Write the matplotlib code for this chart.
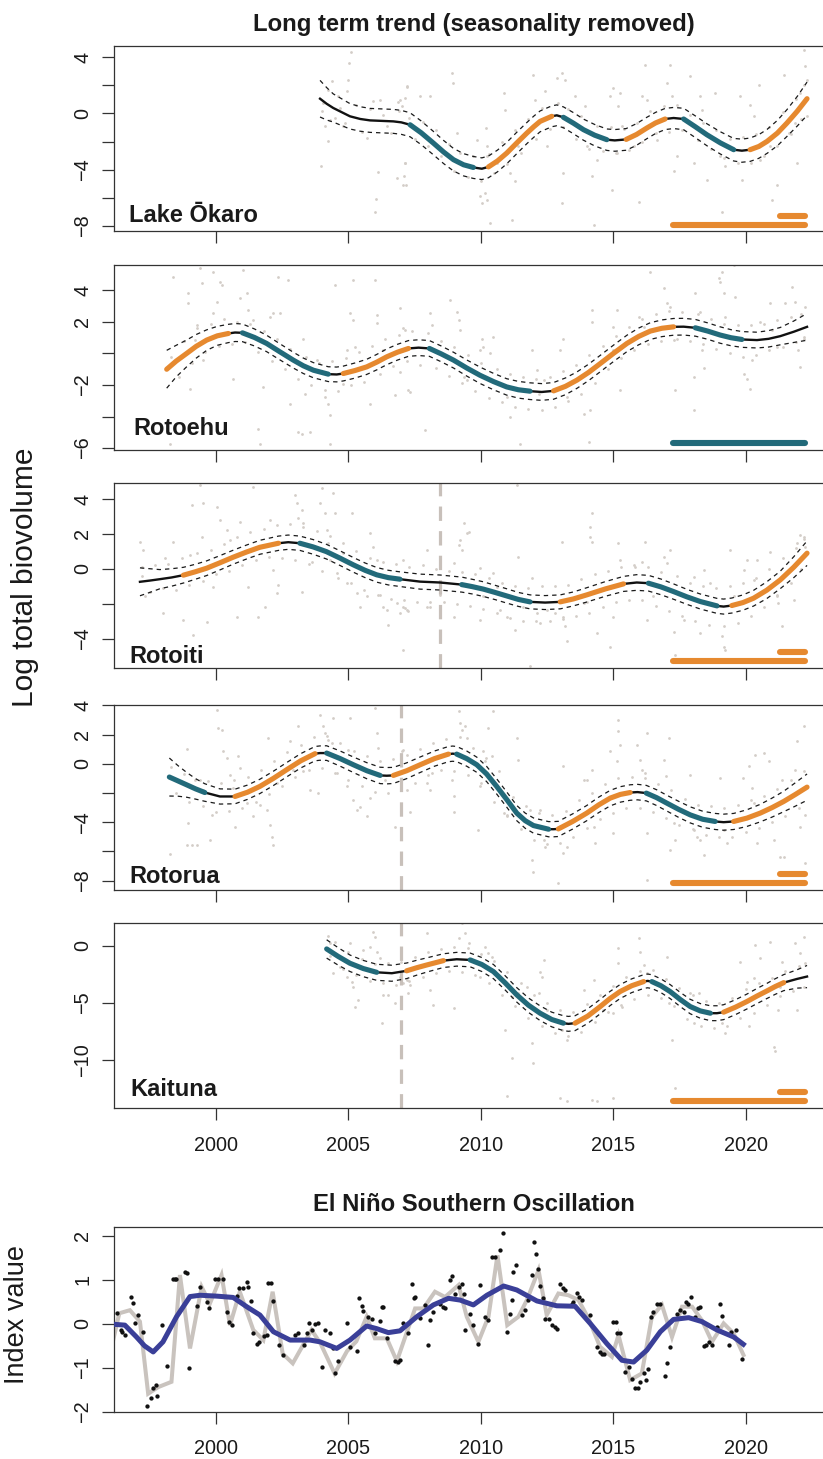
import numpy as np
import matplotlib.pyplot as plt

plt.rcParams['font.family'] = ['Liberation Sans', 'DejaVu Sans']

ORANGE = '#E6892F'
TEAL = '#226A7A'
PTGREY = '#D3CDC8'
VGREY = '#C8C0BA'
INK = '#1A1A1A'
COLS = {'o': ORANGE, 't': TEAL}

# ---------------- Lake Okaro ----------------
okaro_tx = [2003.93, 2004.18, 2004.43, 2005.06, 2005.45, 2005.82, 2006.70, 2007.00, 2007.33, 2007.75,
            2008.21, 2008.60, 2008.97, 2009.35, 2009.72, 2010.04, 2010.29, 2010.63, 2010.98, 2011.36,
            2011.74, 2012.00, 2012.24, 2012.68, 2012.87, 2013.12, 2013.50, 2013.88, 2014.30, 2014.76,
            2015.06, 2015.49, 2015.88, 2016.27, 2016.60, 2016.96, 2017.28, 2017.66, 2018.10, 2018.54,
            2019.05, 2019.55, 2019.86, 2020.17, 2020.50, 2020.81, 2021.20, 2021.56, 2021.95, 2022.32]
okaro_ty = [1.04, 0.68, 0.38, -0.21, -0.40, -0.50, -0.57, -0.64, -0.81, -1.38,
            -2.11, -2.75, -3.29, -3.65, -3.84, -3.93, -3.80, -3.38, -2.82, -2.10,
            -1.40, -0.95, -0.57, -0.21, -0.14, -0.28, -0.70, -1.16, -1.55, -1.87,
            -1.92, -1.85, -1.50, -1.04, -0.68, -0.40, -0.33, -0.40, -0.95, -1.52,
            -2.10, -2.58, -2.65, -2.58, -2.35, -1.99, -1.40, -0.69, 0.15, 1.04]
okaro_ci = [1.3, 1.15, 1.0, 0.9, 0.87, 0.85, 0.85, 0.85, 0.85, 0.84,
            0.83, 0.82, 0.8, 0.79, 0.78, 0.77, 0.77, 0.77, 0.76, 0.76,
            0.75, 0.75, 0.74, 0.74, 0.74, 0.74, 0.75, 0.75, 0.76, 0.76,
            0.77, 0.77, 0.77, 0.76, 0.75, 0.75, 0.75, 0.76, 0.77, 0.78,
            0.79, 0.8, 0.82, 0.83, 0.84, 0.85, 0.9, 0.95, 1.05, 1.18]
okaro_spans = [(2007.33, 2009.72, 't'), (2010.29, 2012.68, 'o'), (2013.12, 2014.76, 't'),
               (2015.49, 2016.96, 'o'), (2017.66, 2019.55, 't'), (2020.17, 2022.32, 'o')]
okaro_bars = [(2017.25, 2022.25, -7.91, 'o'), (2021.3, 2022.25, -7.27, 'o')]
okaro_px = [2005.09, 2005.04, 2005.0, 2004.94, 2004.37, 2004.24, 2004.06, 2004.12, 2004.24, 2003.95,
            2004.5, 2004.69, 2004.87, 2005.69, 2005.94, 2006.2, 2006.45, 2006.11, 2006.05, 2006.01,
            2006.89, 2007.01, 2007.14, 2007.23, 2007.14, 2006.85, 2007.18, 2007.1,
            2006.95, 2007.2, 2007.14, 2007.08, 2007.71, 2008.09, 2008.9, 2008.94, 2009.09, 2009.85,
            2009.97, 2010.04, 2010.16, 2010.25, 2010.35, 2010.2, 2010.23, 2010.25, 2010.6, 2010.86,
            2010.92, 2011.11, 2011.17, 2011.3, 2011.42, 2011.99, 2012.05, 2012.43, 2012.49, 2012.87,
            2013.06, 2013.19, 2013.12, 2013.06, 2013.56, 2013.94, 2014.01, 2014.19, 2014.26, 2014.38,
            2014.89, 2015.01, 2015.2, 2015.26, 2015.33, 2014.95, 2015.14, 2015.77, 2015.96, 2016.08,
            2016.2, 2016.27, 2016.65, 2017.03, 2017.15, 2017.21, 2017.28, 2017.41, 2017.91, 2018.04,
            2018.29, 2018.35, 2018.54, 2018.85, 2019.04, 2019.1, 2019.23, 2019.8, 2019.86, 2020.18,
            2020.3, 2020.49, 2020.55, 2020.93, 2021.18, 2021.0, 2021.44, 2021.62, 2021.87, 2021.94,
            2022.06, 2022.19, 2022.25, 2022.32, 2022.3, 2022.13,
            2004.0, 2004.3, 2004.6, 2004.8, 2005.3, 2005.5, 2005.8, 2006.3, 2006.6, 2006.9,
            2007.3, 2007.5, 2007.8, 2008.0, 2008.3, 2008.5, 2008.8, 2009.0, 2009.2, 2009.5,
            2009.7, 2010.0, 2010.3, 2010.5, 2010.8, 2011.0, 2011.3, 2011.5, 2011.8, 2012.1,
            2012.3, 2012.6, 2012.9, 2013.1, 2013.3, 2013.6, 2013.8, 2014.1, 2014.4, 2014.6,
            2014.9, 2015.1, 2015.4, 2015.6, 2015.9, 2016.1, 2016.4, 2016.6, 2016.9, 2017.1,
            2017.4, 2017.6, 2017.9, 2018.2, 2018.4, 2018.7, 2018.9, 2019.2, 2019.4, 2019.7,
            2019.9, 2020.2, 2020.4, 2020.7, 2020.9, 2021.2, 2021.4, 2021.7, 2021.9, 2022.1, 2022.2]
okaro_py = [4.34, 3.58, 2.35, 1.56, 2.27, 1.68, 0.73, -0.92, -1.99, -3.77,
            -0.33, 0.38, -0.69, -1.75, 0.85, 0.97, -0.92, -4.17, -6.07, -6.97,
            0.78, 0.5, 1.09, 1.87, -3.53, -4.6, -5.07, -4.48,
            0.97, 1.92, -3.53, -5.07, 1.21, 1.21, 2.87, 2.16, -1.4, -1.87,
            -5.9, -6.37, -5.66, -6.14, -7.75, -1.04, -2.35, -3.06, -3.53, 1.45,
            0.26, -4.24, -7.56, -4.83, -2.35, 2.75, 0.97, 1.56, -2.35, 2.51,
            2.87, 2.39, -4.24, -6.37, 1.21, 0.5, -2.35, -4.48, -7.91, -3.29,
            1.21, 1.8, 0.5, 1.45, -0.92, -5.43, -2.82, -2.35, -6.26, 1.21,
            3.46, 0.97, -1.87, 2.16, 3.46, 1.21, -4.12, -3.06, 2.63, -3.53,
            1.21, 0.26, -4.72, 1.45, -3.06, -6.97, -3.77, 1.21, -4.72, 0.62,
            -0.21, 2.04, -3.29, -2.35, -5.07, -6.14, 2.75, -1.4, -0.69, -3.53,
            1.45, 4.53, 3.34, 2.39, -0.21, 0.73,
            0.2, -0.5, 1.2, -0.9, 0.6, -1.3, 0.3, -0.1, -1.4, 0.2,
            -0.3, -1.8, -0.6, -2.3, -1.2, -3.0, -2.2, -4.1, -2.8, -4.5,
            -3.0, -4.8, -2.9, -4.2, -2.0, -3.6, -1.2, -2.8, -0.4, -1.8,
            0.4, -1.1, 0.7, -1.0, 0.3, -1.8, -0.2, -2.5, -0.9, -2.7,
            -1.0, -2.8, -1.1, -2.6, -0.7, -2.0, 0.2, -1.4, 0.5, -1.3,
            0.6, -1.2, -0.1, -1.9, -0.7, -2.5, -1.2, -3.2, -1.8, -3.5,
            -1.7, -3.5, -1.5, -3.0, -1.0, -2.3, 0.1, -1.5, 1.0, -0.4, 2.0]

# ---------------- Rotoehu ----------------
rotoehu_tx = [1998.14, 1998.50, 1998.89, 1999.25, 1999.65, 2000.05, 2000.47, 2000.72, 2001.00, 2001.45,
              2001.91, 2002.42, 2002.92, 2003.30, 2003.68, 2004.24, 2004.56, 2004.81, 2005.25, 2005.69,
              2006.07, 2006.45, 2006.85, 2007.27, 2007.65, 2008.06, 2008.50, 2008.97, 2009.47, 2009.97,
              2010.48, 2010.98, 2011.42, 2011.86, 2012.30, 2012.75, 2013.20, 2013.63, 2014.07, 2014.51,
              2015.02, 2015.52, 2015.96, 2016.40, 2016.84, 2017.28, 2017.66, 2018.10, 2018.57, 2019.04,
              2019.45, 2019.86, 2020.43, 2020.87, 2021.31, 2021.82, 2022.32]
rotoehu_ty = [-1.0, -0.48, 0.0, 0.45, 0.85, 1.12, 1.27, 1.33, 1.31, 1.02,
              0.64, 0.10, -0.42, -0.78, -1.06, -1.31, -1.33, -1.27, -1.08, -0.85,
              -0.55, -0.21, 0.08, 0.32, 0.37, 0.32, -0.02, -0.42, -0.92, -1.38,
              -1.78, -2.12, -2.30, -2.39, -2.44, -2.37, -2.08, -1.69, -1.20, -0.64,
              0.02, 0.64, 1.08, 1.42, 1.60, 1.69, 1.70, 1.63, 1.42, 1.17,
              1.00, 0.89, 0.85, 0.93, 1.10, 1.38, 1.69]
rotoehu_ci = [1.2, 1.0, 0.85, 0.75, 0.65, 0.6, 0.58, 0.57, 0.56, 0.54,
              0.52, 0.51, 0.5, 0.49, 0.48, 0.47, 0.47, 0.47, 0.48, 0.48,
              0.49, 0.5, 0.5, 0.5, 0.5, 0.5, 0.5, 0.5, 0.51, 0.52,
              0.52, 0.52, 0.53, 0.53, 0.53, 0.53, 0.53, 0.52, 0.52, 0.52,
              0.52, 0.52, 0.53, 0.53, 0.53, 0.53, 0.53, 0.53, 0.52, 0.52,
              0.51, 0.5, 0.5, 0.52, 0.55, 0.68, 0.85]
rotoehu_spans = [(1998.14, 2000.47, 'o'), (2001.0, 2004.24, 't'), (2004.81, 2007.27, 'o'),
                 (2008.06, 2011.86, 't'), (2012.75, 2017.28, 'o'), (2018.1, 2019.86, 't')]
rotoehu_bars = [(2017.25, 2022.25, -5.68, 't')]
rotoehu_px = [1998.39, 1998.95, 1998.95, 1999.4, 1999.46, 1999.9, 2000.15, 2000.21, 2000.03, 1999.9,
              1999.27, 1999.21, 1999.02, 1998.26, 1999.52, 2000.65, 2000.91, 2001.03, 2001.16, 2001.22,
              2001.41, 2001.79, 2001.66, 2001.6, 2002.04, 2002.17, 2002.42, 2002.35, 2002.73, 2002.8,
              2003.11, 2003.24, 2003.55, 2003.36, 2003.3, 2003.8, 2004.12, 2004.24, 2004.31, 2004.31,
              2004.5, 2004.81, 2005.06, 2005.19, 2004.94, 2005.25, 2005.19, 2005.82, 2006.01, 2006.07,
              2006.07, 2006.32, 2006.76, 2006.95, 2007.14, 2007.27, 2006.95,
              2007.08, 2007.33, 2008.09, 2008.15, 2007.9, 2008.84, 2009.09, 2009.16, 2009.22, 2009.35,
              2009.47, 2009.97, 2010.04, 2010.1, 2010.48, 2010.35, 2010.98, 2011.11, 2011.49, 2011.93,
              2012.12, 2012.18, 2012.37, 2013.12, 2013.0, 2013.25, 2013.88, 2014.13, 2014.07, 2014.19,
              2014.19, 2015.01, 2015.14, 2015.01, 2015.26, 2015.96, 2016.15, 2016.4, 2016.9, 2017.03,
              2017.15, 2017.28, 2017.34, 2018.04, 2018.1, 2018.04, 2018.29, 2018.35, 2018.41, 2018.98,
              2019.1, 2019.04, 2019.17, 2019.23, 2019.55, 2019.61, 2019.93, 2020.05, 2020.18, 2020.24,
              2020.55, 2020.93, 2021.0, 2021.18, 2021.49, 2021.75, 2021.87, 2021.99, 2022.06, 2022.19,
              2022.25,
              1998.3, 1998.6, 1998.8, 1999.1, 1999.3, 1999.6, 1999.8, 2000.1, 2000.3, 2000.6,
              2000.8, 2001.1, 2001.3, 2001.6, 2001.8, 2002.1, 2002.3, 2002.6, 2002.8, 2003.1,
              2003.4, 2003.6, 2003.9, 2004.1, 2004.4, 2004.6, 2004.9, 2005.1, 2005.4, 2005.6,
              2005.9, 2006.2, 2006.4, 2006.7, 2006.9, 2007.2, 2007.4, 2007.7, 2008.0, 2008.3,
              2008.5, 2008.8, 2009.0, 2009.3, 2009.5, 2009.8, 2010.0, 2010.3, 2010.6, 2010.8,
              2011.1, 2011.3, 2011.6, 2011.8, 2012.1, 2012.3, 2012.6, 2012.8, 2013.1, 2013.3,
              2013.6, 2013.8, 2014.1, 2014.3, 2014.6, 2014.8, 2015.1, 2015.3, 2015.6, 2015.8,
              2016.1, 2016.3, 2016.6, 2016.8, 2017.1, 2017.4, 2017.6, 2017.9, 2018.2, 2018.4,
              2018.7, 2018.9, 2019.2, 2019.4, 2019.7, 2019.9, 2020.2, 2020.4, 2020.7, 2020.9,
              2021.2, 2021.4, 2021.7, 2021.9, 2022.1, 2022.2]
rotoehu_py = [4.87, 3.81, 3.18, 5.4, 4.45, 5.19, 4.56, 4.34, 3.28, 2.54,
              1.8, 0.85, -2.22, -5.72, -0.42, -1.59, 3.5, 5.3, 3.81, 2.75,
              2.12, -2.12, -5.72, -4.77, 2.33, 2.54, 2.54, 4.87, 4.66, -3.18,
              -4.98, -5.08, -4.98, -2.54, 0.95, -0.42, -2.75, -3.18, -3.92, -5.72,
              4.34, -1.91, 2.54, 2.12, 0.21, 0.42, 4.66, -3.18, 4.66, 1.91,
              2.44, 0.21, -2.65, 2.86, 1.48, -2.33, -1.17,
              1.59, -2.44, 2.54, 1.8, -4.87, 3.39, 2.65, 2.12, 1.48, -1.48,
              -1.69, 0.21, 0.95, 0.42, 1.06, 0.0, -2.75, -4.03, -5.72, 0.21,
              -1.06, -2.54, -1.69, 0.95, 0.21, -2.75, -3.81, -3.6, -5.61, 2.75,
              2.01, 1.69, 2.75, 0.21, -2.33, 2.33, 1.69, 5.19, 4.13, 3.18,
              2.97, 0.85, -2.33, -1.48, 3.81, -3.6, 2.65, 0.21, -0.95, 4.77,
              5.19, 4.56, 3.81, 2.33, 5.61, 3.6, -1.27, -1.59, -2.22, -0.42,
              2.01, 3.18, 1.48, 0.42, 3.18, 4.24, 3.28, 0.21, -0.85, 1.06,
              2.97,
              -0.2, -1.5, 0.8, -0.6, 1.6, 0.1, 1.9, 0.5, 2.2, 0.6,
              2.0, 0.7, 1.9, 0.1, 1.4, -0.5, 0.9, -1.0, 0.3, -1.6,
              -0.2, -2.0, -0.6, -2.3, -0.5, -2.4, -0.3, -2.0, 0.1, -1.8,
              0.5, -1.3, 0.9, -0.8, 1.2, -0.5, 1.4, -0.7, 1.3, -0.9,
              0.8, -1.4, 0.4, -1.9, -0.1, -2.4, -0.6, -2.8, -1.0, -3.1,
              -1.3, -3.4, -1.5, -3.5, -1.6, -3.6, -1.5, -3.4, -1.1, -3.0,
              -0.7, -2.6, -0.1, -1.9, 0.5, -1.0, 1.1, -0.3, 1.7, 0.2,
              2.2, 0.6, 2.5, 0.8, 2.7, 0.9, 2.6, 0.8, 2.5, 0.6,
              2.2, 0.3, 1.9, 0.0, 1.8, -0.2, 1.8, -0.1, 1.9, 0.2,
              2.1, 0.4, 2.3, 0.7, 2.5, 0.9]

# ---------------- Rotoiti ----------------
rotoiti_tx = [1997.13, 1997.50, 1997.88, 1998.33, 1998.77, 1999.21, 1999.65, 2000.15, 2000.65, 2001.16,
              2001.66, 2002.36, 2002.73, 2003.17, 2003.67, 2004.17, 2004.68, 2005.19, 2005.63, 2006.07,
              2006.51, 2006.95, 2007.71, 2008.46, 2009.28, 2009.69, 2010.10, 2010.54, 2010.98, 2011.42,
              2011.86, 2012.43, 2013.00, 2013.50, 2014.00, 2014.70, 2015.39, 2015.89, 2016.33, 2016.80,
              2017.28, 2017.78, 2018.29, 2018.92, 2019.17, 2019.48, 2019.90, 2020.30, 2020.80, 2021.31,
              2021.82, 2022.32]
rotoiti_ty = [-0.74, -0.67, -0.59, -0.49, -0.36, -0.17, 0.04, 0.35, 0.67, 0.97,
              1.24, 1.47, 1.53, 1.47, 1.26, 0.99, 0.62, 0.23, -0.08, -0.34,
              -0.50, -0.59, -0.73, -0.78, -0.90, -1.02, -1.16, -1.35, -1.55, -1.75,
              -1.89, -1.93, -1.89, -1.72, -1.49, -1.15, -0.86, -0.78, -0.82, -1.03,
              -1.30, -1.60, -1.87, -2.12, -2.16, -2.10, -1.93, -1.68, -1.22, -0.63,
              0.10, 0.90]
rotoiti_ci = [0.8, 0.68, 0.55, 0.5, 0.45, 0.43, 0.42, 0.41, 0.4, 0.4,
              0.4, 0.41, 0.41, 0.41, 0.42, 0.42, 0.42, 0.42, 0.42, 0.42,
              0.42, 0.42, 0.43, 0.43, 0.43, 0.42, 0.42, 0.41, 0.41, 0.4,
              0.4, 0.4, 0.4, 0.4, 0.41, 0.42, 0.43, 0.45, 0.45, 0.45,
              0.44, 0.43, 0.43, 0.43, 0.43, 0.43, 0.44, 0.45, 0.48, 0.5,
              0.6, 0.7]
rotoiti_spans = [(1998.77, 2002.36, 'o'), (2003.17, 2006.95, 't'), (2009.28, 2011.86, 't'),
                 (2013.0, 2015.39, 'o'), (2016.33, 2018.92, 't'), (2019.48, 2022.32, 'o')]
rotoiti_bars = [(2017.25, 2022.25, -5.27, 'o'), (2021.3, 2022.25, -4.77, 'o')]
rotoiti_px = [1997.13, 1997.19, 1997.25, 1997.32, 1998.01, 1998.07, 1998.39, 1998.77, 1999.08, 1999.02,
              1999.14, 1999.4, 1999.46, 1999.52, 1999.65, 1999.9, 2000.03, 2000.15, 2000.4, 2000.53,
              2000.78, 2000.91, 2001.22, 2001.41, 2001.6, 2001.85, 2002.04, 2002.17, 2002.29, 2002.35,
              2002.98, 2003.05, 2003.11, 2003.24, 2003.3, 2003.24, 2003.61, 2003.93, 2003.99, 2004.12,
              2004.18, 2004.24, 2004.31, 2004.43, 2004.5, 2004.56, 2004.81, 2004.94, 2005.13, 2005.31,
              2005.44, 2005.69, 2005.82, 2005.94, 2006.07, 2006.2, 2006.32, 2006.45, 2006.51, 2006.83,
              2006.95, 2007.08, 2007.14, 2007.27,
              2007.08, 2007.2, 2007.08, 2007.96, 2007.96, 2008.09, 2008.46, 2008.97, 2009.16, 2009.22,
              2009.28, 2009.35, 2009.47, 2009.54, 2008.97, 2009.97, 2009.97, 2010.1, 2010.48, 2010.6,
              2010.73, 2010.98, 2011.3, 2011.36, 2011.42, 2011.61, 2011.86, 2011.93, 2012.12, 2012.24,
              2012.49, 2012.81, 2013.06, 2013.12, 2013.19, 2013.25, 2013.88, 2014.0, 2014.19, 2014.13,
              2014.13, 2014.19, 2014.38, 2014.89, 2015.01, 2015.2, 2015.26, 2015.83, 2016.08, 2016.2,
              2016.27, 2016.52, 2016.9, 2017.03, 2017.15, 2017.28, 2017.34, 2017.41, 2017.66, 2018.04,
              2018.29, 2018.41, 2018.67, 2019.1, 2019.17, 2019.23, 2019.42, 2019.55, 2019.93, 2020.05,
              2020.3, 2020.43, 2020.93, 2021.06, 2021.18, 2021.24, 2021.37, 2021.81, 2021.94, 2022.06,
              2022.19, 2022.25,
              1997.2, 1997.5, 1997.7, 1998.0, 1998.2, 1998.5, 1998.7, 1999.0, 1999.3, 1999.5,
              1999.8, 2000.0, 2000.3, 2000.5, 2000.8, 2001.0, 2001.3, 2001.5, 2001.8, 2002.0,
              2002.3, 2002.5, 2002.8, 2003.0, 2003.3, 2003.5, 2003.8, 2004.0, 2004.3, 2004.6,
              2004.8, 2005.1, 2005.3, 2005.6, 2005.8, 2006.1, 2006.3, 2006.6, 2006.8, 2007.1,
              2007.3, 2007.6, 2007.8, 2008.1, 2008.3, 2008.6, 2008.8, 2009.1, 2009.3, 2009.6,
              2009.8, 2010.1, 2010.3, 2010.6, 2010.8, 2011.1, 2011.3, 2011.6, 2011.8, 2012.1,
              2012.3, 2012.6, 2012.8, 2013.1, 2013.3, 2013.6, 2013.8, 2014.1, 2014.3, 2014.6,
              2014.8, 2015.1, 2015.3, 2015.6, 2015.8, 2016.1, 2016.3, 2016.6, 2016.8, 2017.1,
              2017.4, 2017.6, 2017.9, 2018.1, 2018.4, 2018.6, 2018.9, 2019.2, 2019.4, 2019.7,
              2019.9, 2020.2, 2020.4, 2020.7, 2020.9, 2021.2, 2021.4, 2021.7, 2021.9, 2022.1, 2022.2]
rotoiti_py = [1.56, 0.13, 1.09, -1.58, -2.54, 0.61, 1.56, -2.92, 3.66, 0.8,
              -3.78, 4.81, 1.85, 3.76, -3.02, -1.01, 3.57, 2.81, 2.23, 1.66,
              -2.73, 2.71, -1.01, 4.71, -2.73, -2.16, 2.81, -0.06, -1.39, -0.92,
              4.24, 3.76, 2.9, 3.38, 2.61, -1.3, 0.42, 3.76, 4.62, 3.19,
              2.23, 1.47, 0.52, 4.33, 3.19, -0.25, 0.9, -0.82, 3.19, -1.39,
              -2.16, -1.58, 2.04, 1.28, 0.52, -1.49, -2.16, -2.35, -3.21, -1.97,
              -2.54, -4.64, -2.25, -2.44,
              -2.16, -2.35, 0.52, 1.09, -2.16, -2.16, -1.49, 0.32, 1.37, 1.66,
              1.09, 2.61, 2.04, 2.14, -2.73, 0.04, -2.92, -1.58, -0.25, -1.01,
              -2.35, -2.73, -3.49, 4.81, 0.71, -2.16, -5.59, -0.53, -2.54, -3.11,
              -2.35, -2.54, 1.56, -2.73, -3.3, -4.16, -1.97, -1.87, 3.19, 2.42,
              1.85, 1.56, -3.68, -4.45, -2.73, 1.47, 0.52, 0.13, 0.42, 1.56,
              -2.92, -1.58, 0.71, 0.32, 1.09, -3.59, -4.92, -5.78, -2.92, -0.44,
              -3.68, -0.06, -0.82, -3.87, -4.45, -4.64, 1.09, -1.58, -0.06, 0.52,
              -0.63, 0.52, 0.99, -0.82, -1.58, -1.97, -3.3, -1.77, 1.47, 1.95,
              1.85, 1.28,
              -0.4, -1.3, 0.2, -1.1, 0.3, -1.2, 0.6, -0.9, 0.9, -0.7,
              1.1, -0.3, 1.4, -0.1, 1.8, 0.2, 2.1, 0.5, 2.3, 0.7,
              2.5, 0.6, 2.6, 0.5, 2.4, 0.3, 2.2, -0.1, 1.9, -0.5,
              1.5, -0.8, 1.0, -1.2, 0.6, -1.5, 0.4, -1.7, 0.3, -1.8,
              0.1, -1.9, 0.2, -1.9, 0.0, -1.9, -0.1, -2.0, -0.2, -2.1,
              -0.3, -2.3, -0.5, -2.5, -0.8, -2.8, -1.0, -3.0, -1.1, -3.0,
              -1.0, -3.0, -1.0, -2.9, -0.9, -2.7, -0.6, -2.5, -0.3, -2.2,
              -0.1, -1.9, 0.1, -1.8, 0.2, -1.8, 0.1, -2.1, -0.2, -2.4,
              -0.4, -2.7, -0.8, -3.0, -1.0, -3.2, -1.1, -3.3, -1.0, -3.1,
              -0.8, -2.7, -0.5, -2.2, 0.0, -1.5, 0.6, -0.8, 1.2, 0.0, 1.7]

# ---------------- Rotorua ----------------
rotorua_tx = [1998.24, 1998.56, 1998.89, 1999.23, 1999.58, 2000.15, 2000.72, 2001.19, 2001.66, 2002.17,
              2002.67, 2003.20, 2003.74, 2003.93, 2004.18, 2004.68, 2005.19, 2005.70, 2006.20, 2006.45,
              2006.70, 2007.20, 2007.71, 2008.25, 2008.78, 2008.94, 2009.09, 2009.47, 2009.85, 2010.22,
              2010.60, 2010.98, 2011.36, 2011.68, 2011.99, 2012.56, 2012.75, 2012.93, 2013.47, 2014.00,
              2014.45, 2014.89, 2015.27, 2015.64, 2015.92, 2016.25, 2016.64, 2017.03, 2017.47, 2017.91,
              2018.38, 2018.85, 2019.17, 2019.55, 2020.05, 2020.55, 2021.00, 2021.44, 2021.88, 2022.32]
rotorua_ty = [-0.91, -1.17, -1.44, -1.72, -1.97, -2.24, -2.24, -1.95, -1.55, -1.00,
              -0.41, 0.20, 0.69, 0.73, 0.73, 0.36, -0.07, -0.48, -0.80, -0.82,
              -0.80, -0.48, -0.07, 0.35, 0.66, 0.69, 0.66, 0.35, -0.07, -0.70,
              -1.55, -2.45, -3.38, -3.90, -4.23, -4.48, -4.48, -4.46, -3.95, -3.38,
              -2.82, -2.35, -2.10, -1.97, -1.94, -2.01, -2.32, -2.70, -3.12, -3.50,
              -3.80, -3.95, -4.00, -3.95, -3.72, -3.38, -3.00, -2.58, -2.10, -1.60]
rotorua_ci = [1.3, 1.05, 0.85, 0.7, 0.6, 0.52, 0.5, 0.49, 0.49, 0.49,
              0.49, 0.49, 0.49, 0.49, 0.5, 0.52, 0.53, 0.55, 0.56, 0.56,
              0.55, 0.54, 0.53, 0.52, 0.52, 0.52, 0.52, 0.52, 0.52, 0.52,
              0.52, 0.52, 0.52, 0.52, 0.52, 0.52, 0.52, 0.52, 0.52, 0.52,
              0.53, 0.53, 0.53, 0.53, 0.53, 0.53, 0.54, 0.54, 0.55, 0.55,
              0.55, 0.55, 0.55, 0.55, 0.57, 0.6, 0.65, 0.7, 0.8, 0.9]
rotorua_spans = [(1998.24, 1999.58, 't'), (2000.72, 2003.74, 'o'), (2004.18, 2006.2, 't'),
                 (2006.7, 2008.78, 'o'), (2009.09, 2012.56, 't'), (2012.93, 2015.64, 'o'),
                 (2016.25, 2018.85, 't'), (2019.55, 2022.32, 'o')]
rotorua_bars = [(2017.25, 2022.25, -8.18, 'o'), (2021.3, 2022.25, -7.57, 'o')]
rotorua_px = [1998.26, 1998.89, 1998.95, 1998.89, 1999.08, 1999.27, 1999.4, 1999.52, 1999.77, 1999.84,
              2000.03, 2000.09, 2000.21, 2000.28, 2000.4, 2000.53, 2000.65, 2000.72, 2000.85, 2000.91,
              2001.16, 2001.41, 2001.66, 2001.91, 2001.98, 2002.04, 2002.1, 2002.17, 2002.29, 2002.8,
              2002.92, 2003.11, 2003.3, 2003.55, 2003.87, 2003.93, 2004.06, 2004.12, 2004.24, 2004.37,
              2004.43, 2004.56, 2004.94, 2005.0, 2005.06, 2005.19, 2005.31, 2005.44, 2005.69, 2005.82,
              2006.01, 2006.07, 2006.13, 2006.39, 2006.76, 2007.01,
              2007.08, 2007.2, 2007.33, 2007.96, 2008.09, 2008.15, 2008.9, 2008.97, 2008.97, 2009.16,
              2009.22, 2009.28, 2009.41, 2009.47, 2009.91, 2009.97, 2010.1, 2010.16, 2010.29, 2010.42,
              2010.48, 2010.73, 2010.86, 2010.98, 2011.36, 2011.42, 2011.86, 2011.93, 2011.99, 2012.24,
              2012.37, 2012.43, 2012.93, 2013.1, 2013.12, 2013.25, 2013.88, 2014.0, 2014.19, 2014.26,
              2014.32, 2014.89, 2015.01, 2015.14, 2015.2, 2015.2, 2015.26, 2015.89, 2016.02, 2016.08,
              2016.2, 2016.27, 2016.27, 2016.27, 2016.9, 2016.98, 2017.09, 2017.15, 2017.28, 2017.34,
              2017.91, 2018.04, 2018.16, 2018.29, 2018.41, 2019.04, 2019.17, 2019.29, 2019.92, 2020.11,
              2020.24, 2020.3, 2020.37, 2020.43, 2020.68, 2020.87, 2021.06, 2021.31, 2021.44, 2021.37,
              2021.87, 2021.94, 2022.06, 2022.19, 2022.25, 2022.25,
              1998.3, 1998.5, 1998.8, 1999.0, 1999.2, 1999.5, 1999.7, 2000.0, 2000.2, 2000.5,
              2000.7, 2001.0, 2001.2, 2001.5, 2001.7, 2002.0, 2002.2, 2002.5, 2002.7, 2003.0,
              2003.2, 2003.5, 2003.7, 2004.0, 2004.2, 2004.5, 2004.7, 2005.0, 2005.2, 2005.5,
              2005.7, 2006.0, 2006.2, 2006.5, 2006.7, 2007.0, 2007.2, 2007.5, 2007.7, 2008.0,
              2008.2, 2008.5, 2008.7, 2009.0, 2009.2, 2009.5, 2009.7, 2010.0, 2010.2, 2010.5,
              2010.7, 2011.0, 2011.2, 2011.5, 2011.7, 2012.0, 2012.2, 2012.5, 2012.7, 2013.0,
              2013.2, 2013.5, 2013.7, 2014.0, 2014.2, 2014.5, 2014.7, 2015.0, 2015.2, 2015.5,
              2015.7, 2016.0, 2016.2, 2016.5, 2016.7, 2017.0, 2017.2, 2017.5, 2017.7, 2018.0,
              2018.2, 2018.5, 2018.7, 2019.0, 2019.2, 2019.5, 2019.7, 2020.0, 2020.2, 2020.5,
              2020.7, 2021.0, 2021.2, 2021.5, 2021.7, 2022.0, 2022.2]
rotorua_py = [-6.17, 1.0, -4.07, -5.55, -5.55, -5.55, -1.1, -1.78, -5.21, -3.5,
              3.7, 2.45, 2.33, 0.85, 0.39, -0.75, -1.67, -4.3, 0.5, -0.3,
              -2.7, -3.61, -2.81, -3.15, 1.76, -4.18, -4.98, -5.55, -1.33, 1.53,
              -0.41, 2.56, -0.53, -1.78, -2.01, 3.36, 2.56, 2.1, 1.65, 1.42,
              3.13, -0.64, -1.55, 0.96, 3.13, -2.47, -3.15, -2.93, -3.61, -2.35,
              3.82, 2.1, 1.07, -1.1, -4.3, 0.85,
              0.96, -1.78, -3.27, -1.33, -1.78, -0.64, -1.1, -2.24, -3.27, 3.59,
              2.79, 2.33, 2.56, 1.76, -4.53, -1.55, 0.85, 0.16, 2.45, 0.5,
              3.59, -1.78, -3.38, -3.61, 1.76, 0.27, -3.15, -6.58, -7.38, -3.15,
              -5.21, -5.67, -8.18, -0.18, -6.13, -5.67, -1.1, -1.1, -0.41, -4.3,
              -5.44, 0.85, -4.75, 0.16, 3.02, 2.22, 1.3, 1.3, 0.27, -0.41,
              -0.64, 2.1, -4.75, -7.95, 0.27, -0.87, 1.76, -5.9, -4.07, -5.21,
              -0.75, -4.53, -4.98, -5.21, -6.24, -0.98, -4.53, -5.44, -0.98, -0.18,
              -1.67, -2.7, 0.62, -5.44, 0.73, 0.16, -5.21, -6.35, -6.35, -1.1,
              -0.41, 1.53, -4.3, 2.56, -3.5, -6.81,
              -0.2, -2.0, -0.7, -2.6, -1.1, -2.9, -1.2, -3.3, -1.3, -3.2,
              -1.1, -3.0, -0.9, -2.6, -0.4, -2.1, 0.2, -1.5, 0.8, -0.9,
              1.3, -0.4, 1.8, -0.3, 1.9, -0.6, 1.4, -1.1, 0.9, -1.5,
              0.5, -1.9, 0.2, -2.0, 0.3, -1.7, 0.6, -1.3, 1.0, -0.8,
              1.4, -0.4, 1.7, -0.5, 1.8, -0.8, 1.1, -1.3, 0.4, -2.6,
              -0.5, -3.5, -2.3, -4.5, -2.9, -5.2, -3.4, -5.5, -3.5, -5.4,
              -3.2, -5.0, -2.5, -4.4, -2.0, -3.8, -1.4, -3.4, -1.0, -3.0,
              -0.9, -3.0, -1.0, -3.3, -1.4, -3.7, -1.8, -4.2, -2.4, -4.5,
              -2.8, -4.9, -2.9, -5.0, -3.0, -5.0, -2.8, -4.7, -2.5, -4.4,
              -2.2, -4.0, -1.7, -3.6, -1.1, -3.0, -0.5]

# ---------------- Kaituna ----------------
kaituna_tx = [2004.18, 2004.62, 2005.06, 2005.56, 2006.07, 2006.64, 2007.20, 2007.58, 2007.96, 2008.59,
              2009.09, 2009.60, 2010.04, 2010.48, 2010.92, 2011.36, 2011.80, 2012.24, 2012.68, 2013.12,
              2013.31, 2013.56, 2014.04, 2014.51, 2014.88, 2015.26, 2015.70, 2016.15, 2016.30, 2016.46,
              2016.80, 2017.15, 2017.53, 2017.91, 2018.29, 2018.67, 2018.92, 2019.17, 2019.61, 2020.05,
              2020.43, 2020.81, 2021.12, 2021.44, 2021.94, 2022.32]
kaituna_ty = [-0.29, -0.95, -1.54, -2.00, -2.33, -2.41, -2.20, -1.93, -1.69, -1.31,
              -1.19, -1.25, -1.65, -2.27, -3.25, -4.30, -5.20, -5.90, -6.45, -6.77,
              -6.83, -6.77, -6.15, -5.32, -4.62, -4.01, -3.50, -3.14, -3.08, -3.14,
              -3.50, -4.01, -4.70, -5.32, -5.70, -5.90, -5.90, -5.81, -5.38, -4.88,
              -4.40, -3.95, -3.57, -3.23, -2.91, -2.70]
kaituna_ci = [0.8, 0.76, 0.72, 0.71, 0.7, 0.7, 0.68, 0.65, 0.62, 0.6,
              0.6, 0.6, 0.61, 0.62, 0.62, 0.63, 0.63, 0.64, 0.64, 0.65,
              0.65, 0.65, 0.64, 0.63, 0.62, 0.61, 0.6, 0.6, 0.6, 0.6,
              0.6, 0.61, 0.62, 0.63, 0.64, 0.65, 0.65, 0.65, 0.65, 0.65,
              0.66, 0.66, 0.68, 0.7, 0.8, 0.97]
kaituna_spans = [(2004.18, 2006.07, 't'), (2007.2, 2008.59, 'o'), (2009.6, 2013.12, 't'),
                 (2013.56, 2016.15, 'o'), (2016.46, 2018.67, 't'), (2019.17, 2021.44, 'o')]
kaituna_bars = [(2017.25, 2022.25, -13.55, 'o'), (2021.3, 2022.25, -12.79, 'o')]
kaituna_px = [2004.24, 2004.31, 2004.43, 2004.69, 2004.94, 2005.06, 2005.13, 2005.19, 2005.25, 2005.38,
              2005.57, 2005.82, 2005.92, 2006.01, 2006.07, 2006.2, 2006.26, 2006.32, 2006.51, 2006.76,
              2006.95, 2007.08, 2007.27,
              2007.2, 2007.33, 2007.96, 2008.09, 2008.21, 2008.97, 2009.16, 2009.28, 2009.41, 2009.54,
              2009.97, 2010.16, 2010.29, 2010.42, 2010.98, 2010.92, 2011.17, 2011.17, 2011.42, 2011.74,
              2011.93, 2011.99, 2012.18, 2012.24, 2012.3, 2012.37, 2012.49, 2013.06, 2013.25, 2013.0,
              2013.25, 2013.88, 2014.19, 2014.26, 2014.38, 2014.63, 2015.01, 2015.01, 2015.2, 2015.2,
              2015.33, 2015.96, 2016.02, 2016.15, 2016.27, 2017.03, 2017.09, 2017.22, 2017.34, 2017.91,
              2018.04, 2018.23, 2019.1, 2019.23, 2019.8, 2020.05, 2020.11, 2020.3, 2020.37, 2020.55,
              2020.93, 2021.06, 2021.12, 2021.24, 2021.31, 2021.37, 2021.87, 2021.94, 2022.06, 2022.19,
              2022.25,
              2004.3, 2004.5, 2004.8, 2005.0, 2005.3, 2005.5, 2005.8, 2006.0, 2006.3, 2006.5,
              2006.8, 2007.0, 2007.3, 2007.5, 2007.8, 2008.0, 2008.3, 2008.5, 2008.8, 2009.0,
              2009.3, 2009.5, 2009.8, 2010.0, 2010.3, 2010.5, 2010.8, 2011.0, 2011.3, 2011.5,
              2011.8, 2012.0, 2012.3, 2012.5, 2012.8, 2013.0, 2013.3, 2013.5, 2013.8, 2014.0,
              2014.3, 2014.5, 2014.8, 2015.0, 2015.3, 2015.5, 2015.8, 2016.0, 2016.3, 2016.5,
              2016.8, 2017.0, 2017.3, 2017.5, 2017.8, 2018.0, 2018.3, 2018.5, 2018.8, 2019.0,
              2019.3, 2019.5, 2019.8, 2020.0, 2020.3, 2020.5, 2020.8, 2021.0, 2021.3, 2021.5,
              2021.8, 2022.0, 2022.2]
kaituna_py = [0.84, 0.2, -2.41, -1.83, -2.7, 0.2, -3.14, -3.58, -5.32, -4.74,
              -0.38, -0.09, 1.22, 0.78, -0.52, -1.1, -6.77, -4.3, -4.3, -5.03,
              -2.7, -3.28, -4.16,
              -2.99, -3.43, 1.08, -3.87, -5.17, -5.47, 0.64, 1.95, 1.08, 0.2,
              -2.7, -0.09, -0.67, -0.96, -13.17, -7.35, -9.83, -4.45, -4.16, -3.58,
              -8.52, -10.26, -4.16, -2.27, -2.7, -1.25, -5.61, -7.35, -8.23, -13.31,
              -13.6, -3.87, -13.46, -2.99, -13.6, -5.61, -13.31, -5.9, -0.23, -1.54,
              -5.32, 0.64, -0.52, -1.69, -2.41, -0.96, -5.03, -8.23, -12.44, -4.16,
              -6.77, -4.16, -6.77, -7.65, -1.4, -3.14, -7.06, -2.85, 0.06, -1.1,
              0.35, -8.81, -9.24, -5.61, -3.58, -1.4, 0.2, -5.61, -0.67, 0.78,
              -1.54,
              -0.9, 0.3, -2.0, -0.6, -2.6, -1.2, -3.1, -1.6, -3.3, -1.5,
              -3.4, -1.4, -3.1, -1.0, -2.7, -0.6, -2.4, -0.3, -2.2, -0.1,
              -2.3, -0.2, -2.6, -0.7, -3.3, -1.3, -4.3, -2.3, -5.3, -3.3,
              -6.3, -4.3, -7.0, -5.0, -7.6, -5.6, -7.9, -5.8, -7.5, -5.1,
              -6.7, -4.3, -5.8, -3.5, -5.2, -2.7, -4.7, -2.2, -4.3, -2.1,
              -4.6, -2.9, -5.3, -3.7, -6.4, -4.3, -7.0, -4.8, -7.2, -5.0,
              -7.0, -4.6, -6.3, -3.8, -5.9, -3.3, -5.2, -2.8, -4.4, -2.2,
              -4.0, -1.8, -3.6]

# ---------------- ENSO ----------------
enso_px = [1996.27, 1996.40, 1996.47, 1996.56, 1996.81, 1996.88, 1996.94, 1997.07, 1997.23, 1997.38,
           1997.53, 1997.63, 1997.73, 1997.78, 1997.98, 1998.14, 1998.39, 1998.45, 1998.51, 1998.83,
           1998.89, 1998.98, 1999.27, 1999.40, 1999.65, 1999.75, 1999.96, 2000.09, 2000.28, 2000.40,
           2000.50, 2000.59, 2000.78, 2000.88, 2001.03, 2001.16, 2001.22, 2001.31, 2001.41, 2001.54,
           2001.64, 2001.81, 2001.91, 2001.98, 2002.07, 2002.17, 2002.39, 2002.54, 2002.98, 2003.09,
           2003.32, 2003.45, 2003.53, 2003.61, 2003.74, 2003.87, 2003.99, 2004.12, 2004.31, 2004.43,
           2004.50, 2004.62, 2004.94, 2005.06, 2005.31, 2005.42, 2005.50, 2005.57, 2005.76, 2005.88,
           2006.01, 2006.20, 2006.26, 2006.32, 2006.47, 2006.76, 2006.89, 2006.95, 2007.08, 2007.27,
           2007.39, 2007.48, 2007.52, 2007.71, 2007.90, 2008.02, 2008.09, 2008.21, 2008.46, 2008.56,
           2008.65, 2008.84, 2008.90, 2009.03, 2009.16, 2009.28, 2009.35, 2009.41, 2009.60, 2009.72,
           2009.91, 2009.97, 2010.16, 2010.29, 2010.42, 2010.54, 2010.73, 2010.83, 2010.98, 2011.11,
           2011.17, 2011.23, 2011.34, 2011.55, 2011.68, 2011.80, 2011.93, 2012.02, 2012.09, 2012.15,
           2012.24, 2012.34, 2012.43, 2012.56, 2012.68, 2012.81, 2012.87, 2013.00, 2013.10, 2013.19,
           2013.44, 2013.50, 2013.63, 2013.69, 2013.82, 2014.11, 2014.38, 2014.51, 2014.57, 2014.66,
           2015.01, 2015.11, 2015.16, 2015.26, 2015.45, 2015.58, 2015.70, 2015.83, 2015.92, 2016.02,
           2016.15, 2016.25, 2016.33, 2016.42, 2016.52, 2016.65, 2016.78, 2016.96, 2017.03, 2017.15,
           2017.41, 2017.53, 2017.68, 2017.76, 2017.84, 2017.93, 2018.10, 2018.22, 2018.29, 2018.44,
           2018.51, 2018.60, 2018.73, 2018.92, 2019.02, 2019.11, 2019.36, 2019.43, 2019.62, 2019.87]
enso_py = [0.24, -0.14, -0.18, -0.26, 0.60, 0.48, 0.01, 0.20, -0.18, -1.87,
           -1.68, -1.47, -1.40, -1.65, -0.02, -0.96, 1.03, 1.02, 1.03, 1.17,
           1.15, -1.00, 0.41, 0.83, 0.49, 0.36, 1.02, 1.03, 1.01, 0.26,
           0.05, -0.03, 0.63, 0.82, 0.82, 0.96, 0.84, 0.53, -0.22, -0.47,
           -0.41, -0.28, -0.26, 0.92, 0.93, 0.52, -0.49, -0.71, -0.26, -0.22,
           -0.49, -0.22, 0.02, -0.14, -0.01, 0.01, -0.98, -0.14, -0.21, -0.54,
           -1.13, -0.85, 0.01, -0.52, -0.62, 0.59, 0.41, 0.30, 0.16, 0.12,
           -0.21, 0.07, 0.39, 0.39, -0.32, -0.85, -0.87, -0.83, 0.01, -0.22,
           0.90, 0.59, 0.62, 0.14, 0.43, -0.49, 0.08, 0.27, 0.45, 0.39,
           0.35, 0.99, 1.09, 0.68, 0.84, 0.90, 0.67, -0.14, 0.22, -0.03,
           -0.45, 0.88, 0.16, 0.08, 1.51, 1.53, 1.68, 2.06, -0.18, 0.22,
           0.54, 1.17, 1.34, 0.20, 0.31, 0.54, 1.11, 1.87, 1.58, 1.25,
           0.86, 0.58, 0.12, 0.12, -0.03, -0.07, -0.11, 0.90, 0.82, 0.78,
           0.45, 0.50, 0.71, 0.62, 0.54, 0.19, -0.52, -0.64, -0.68, -0.68,
           0.03, 0.03, -0.20, -0.20, -1.09, -0.99, -1.25, -1.47, -1.45, -1.32,
           -1.13, -1.27, -1.03, 0.16, 0.27, 0.45, 0.45, -1.19, -0.90, -0.52,
           0.22, 0.31, 0.27, 0.50, 0.45, 0.60, 0.16, 0.35, 0.39, -0.51,
           -0.49, -0.41, -0.49, -0.07, 0.45, 0.18, -0.49, -0.18, -0.13, -0.79]
enso_line_x = [1996.12, 1996.35, 1996.75, 1997.13, 1997.44, 1997.82, 1998.32, 1998.64, 1999.02, 1999.46,
               1999.77, 2000.21, 2000.53, 2000.9, 2001.41, 2001.79, 2002.14, 2002.52, 2002.9, 2003.61,
               2003.95, 2004.48, 2004.95, 2005.3, 2005.69, 2006.0, 2006.45, 2006.83, 2007.52, 2007.83,
               2008.27, 2008.65, 2009.16, 2009.47, 2009.91, 2010.29, 2010.63, 2011.0, 2011.42, 2011.74,
               2012.18, 2012.49, 2012.93, 2013.31, 2013.69, 2014.07, 2014.5, 2014.95, 2015.2, 2015.64,
               2016.08, 2016.46, 2016.84, 2017.22, 2017.6, 2017.98, 2018.35, 2018.73, 2019.17, 2019.55,
               2019.92]
enso_line_y = [-0.37, 0.24, 0.31, 0.05, -1.59, -1.44, -1.32, 1.11, -0.56, 0.84,
               0.46, 1.11, -0.03, 0.73, -0.14, -0.37, 0.73, -0.68, -0.9, -0.14,
               -0.45, -1.13, -0.62, -0.4, 0.16, -0.33, -0.33, -0.85, 0.35, 0.35,
               0.73, 0.61, 0.88, 0.16, -0.41, 0.16, 1.56, -0.03, 0.16, 0.54,
               1.22, 0.2, 0.69, 0.65, 0.54, 0.12, -0.52, -0.75, -0.26, -1.28,
               -1.13, 0.16, 0.43, -0.3, 0.39, 0.39, 0.08, -0.41, 0.01, -0.22,
               -0.71]
enso_smooth_x = [1996.12, 1996.56, 1997.0, 1997.3, 1997.63, 1998.0, 1998.51, 1999.02, 1999.4, 2000.03,
                 2000.65, 2001.16, 2001.66, 2002.17, 2002.8, 2003.55, 2003.93, 2004.56, 2005.06, 2005.69,
                 2006.07, 2006.51, 2006.95, 2007.58, 2008.21, 2008.78, 2009.22, 2009.72, 2010.23, 2010.86,
                 2011.36, 2012.12, 2012.87, 2013.56, 2014.13, 2014.76, 2015.33, 2015.77, 2016.27, 2016.78,
                 2017.28, 2017.85, 2018.35, 2018.92, 2019.55, 2019.99]
enso_smooth_y = [-0.01, -0.03, -0.3, -0.5, -0.64, -0.41, 0.16, 0.62, 0.65, 0.63,
                 0.6, 0.39, 0.2, -0.18, -0.37, -0.37, -0.41, -0.56, -0.37, -0.05,
                 -0.11, -0.2, -0.16, 0.16, 0.43, 0.58, 0.54, 0.43, 0.65, 0.86,
                 0.77, 0.52, 0.41, 0.4, 0.01, -0.45, -0.83, -0.87, -0.6, -0.18,
                 0.1, 0.14, 0.05, -0.14, -0.3, -0.5]

lakes = [
    ('Lake Ōkaro', okaro_tx, okaro_ty, okaro_ci, okaro_spans, okaro_bars, okaro_px, okaro_py, None,
     (-8.35, 4.78), [-8, -6, -4, -2, 0, 2, 4], {4: '4', 0: '0', -4: '−4', -8: '−8'}, (0.021, 0.05), (46, 231)),
    ('Rotoehu', rotoehu_tx, rotoehu_ty, rotoehu_ci, rotoehu_spans, rotoehu_bars, rotoehu_px, rotoehu_py, None,
     (-6.1, 5.63), [-6, -4, -2, 0, 2, 4], {4: '4', 2: '2', -2: '−2', -6: '−6'}, (0.027, 0.079), (264.7, 449.7)),
    ('Rotoiti', rotoiti_tx, rotoiti_ty, rotoiti_ci, rotoiti_spans, rotoiti_bars, rotoiti_px, rotoiti_py, 2008.46,
     (-5.68, 4.94), [-4, -2, 0, 2, 4], {4: '4', 2: '2', 0: '0', -4: '−4'}, (0.022, 0.029), (482.7, 668)),
    ('Rotorua', rotorua_tx, rotorua_ty, rotorua_ci, rotorua_spans, rotorua_bars, rotorua_px, rotorua_py, 2007.0,
     (-8.64, 4.04), [-8, -6, -4, -2, 0, 2, 4], {4: '4', 2: '2', 0: '0', -4: '−4', -8: '−8'}, (0.021, 0.039), (704.7, 890)),
    ('Kaituna', kaituna_tx, kaituna_ty, kaituna_ci, kaituna_spans, kaituna_bars, kaituna_px, kaituna_py, 2007.0,
     (-14.2, 2.0), [-10, -5, 0], {0: '0', -5: '−5', -10: '−10'}, (0.023, 0.068), (922.7, 1108.3)),
]

W, H = 823, 1459
XLIM = (1996.15, 2023.3)
fig = plt.figure(figsize=(W / 100, H / 100), dpi=100)


def make_axes(top, bottom):
    ax = fig.add_axes([114 / W, 1 - bottom / H, 719 / W, (bottom - top) / H])
    for s in ax.spines.values():
        s.set_color('#333333')
        s.set_linewidth(0.9)
    ax.tick_params(direction='out', length=8.6, width=0.9, color='#333333',
                   labelsize=14.3, labelcolor=INK)
    ax.tick_params(axis='x', pad=11)
    ax.tick_params(axis='y', pad=7)
    ax.set_xlim(*XLIM)
    ax.set_xticks([2000, 2005, 2010, 2015, 2020])
    return ax


for i, (name, tx, ty, ci, spans, bars, px, py, vline, ylim, yt, ylab, lpos, box) in enumerate(lakes):
    ax = make_axes(*box)
    tx = np.array(tx)
    ty = np.array(ty)
    ci = np.array(ci)
    ax.plot(px, py, 'o', ms=2.0, color=PTGREY, mec='none', zorder=1)
    if vline is not None:
        ax.axvline(vline, color=VGREY, lw=2.3, dashes=(4.5, 3.2), zorder=2)
    ax.plot(tx, ty + ci, color=INK, lw=0.9, dashes=(3.5, 3.2), zorder=3)
    ax.plot(tx, ty - ci, color=INK, lw=0.9, dashes=(3.5, 3.2), zorder=3)
    ax.plot(tx, ty, color='#111111', lw=1.7, zorder=4, solid_joinstyle='round')
    for a, b, c in spans:
        m = (tx >= a - 1e-6) & (tx <= b + 1e-6)
        ax.plot(tx[m], ty[m], color=COLS[c], lw=3.7, solid_capstyle='round',
                solid_joinstyle='round', zorder=5)
    for a, b, yv, c in bars:
        ax.plot([a, b], [yv, yv], color=COLS[c], lw=4.4, solid_capstyle='round', zorder=5)
    ax.set_ylim(*ylim)
    ax.set_yticks(yt)
    ax.set_yticklabels([ylab.get(v, '') for v in yt], rotation=90, va='center')
    if i < 4:
        ax.set_xticklabels([])
    ax.text(lpos[0], lpos[1], name, transform=ax.transAxes, fontsize=17,
            fontweight='bold', color=INK, va='baseline', ha='left', zorder=6)

fig.text(473.5 / W, 1 - 30.7 / H, 'Long term trend (seasonality removed)', ha='center',
         va='baseline', fontsize=17.2, fontweight='bold', color=INK)
fig.text(25 / W, 1 - 577 / H, 'Log total biovolume', rotation=90, ha='center', va='center',
         fontsize=21.5, color=INK)

# ENSO panel
ax = make_axes(1226.7, 1411.7)
ax.plot(enso_line_x, enso_line_y, color='#C9C3BE', lw=2.9, zorder=2, solid_joinstyle='miter')
ax.plot(enso_px, enso_py, 'o', ms=3.1, color='#111111', mec='none', zorder=3)
ax.plot(enso_smooth_x, enso_smooth_y, color='#3A3F98', lw=3.6, zorder=4,
        solid_capstyle='butt', solid_joinstyle='round')
ax.set_ylim(-2.0, 2.21)
ax.set_yticks([-2, -1, 0, 1, 2])
ax.set_yticklabels(['−2', '−1', '0', '1', '2'], rotation=90, va='center')
fig.text(473.5 / W, 1 - 1210.7 / H, 'El Niño Southern Oscillation', ha='center', va='baseline',
         fontsize=17.2, fontweight='bold', color=INK)
fig.text(17 / W, 1 - 1315 / H, 'Index value', rotation=90, ha='center', va='center',
         fontsize=19.5, color=INK)

fig.savefig('out.png', dpi=100)
